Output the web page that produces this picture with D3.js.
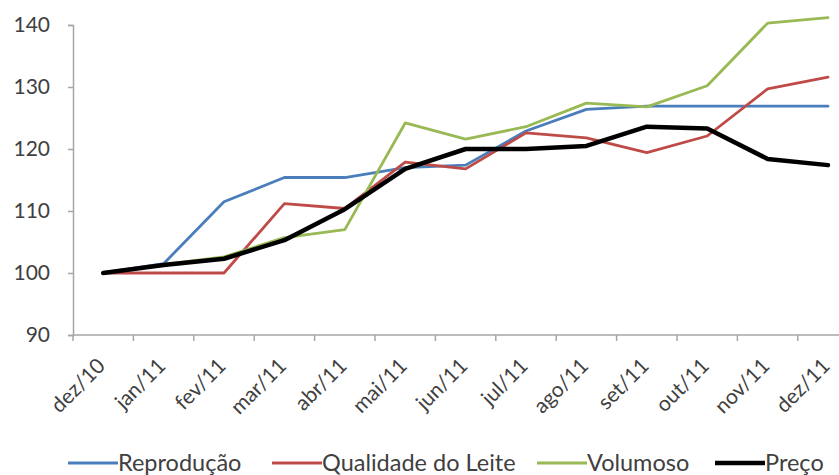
<!DOCTYPE html>
<html>
<head>
<meta charset="utf-8">
<script src="https://cdn.jsdelivr.net/npm/d3@7/dist/d3.min.js"></script>
<style>
  html, body { margin: 0; padding: 0; background: #fff; }
  svg { display: block; }
  text { font-family: Lato, "Open Sans", sans-serif; fill: #404040; }
</style>
</head>
<body>
<svg id="chart" width="839" height="475"></svg>
<script>
// Months on the category axis
const months = ["dez/10", "jan/11", "fev/11", "mar/11", "abr/11", "mai/11", "jun/11",
                "jul/11", "ago/11", "set/11", "out/11", "nov/11", "dez/11"];

// Index values (dez/10 = 100)
const reproducao = [100, 101.5, 111.5, 115.4, 115.4, 117.0, 117.4, 122.9, 126.4, 126.9, 126.9, 126.9, 126.9];
const qualidade  = [100, 100.0, 100.0, 111.2, 110.4, 117.9, 116.8, 122.6, 121.8, 119.4, 122.1, 129.7, 131.6];
const volumoso   = [100, 101.4, 102.6, 105.7, 107.0, 124.2, 121.6, 123.6, 127.4, 126.8, 130.2, 140.3, 141.2];
const preco      = [100, 101.3, 102.3, 105.3, 110.3, 116.8, 120.0, 120.0, 120.5, 123.6, 123.3, 118.4, 117.4];

const yTicks = [90, 100, 110, 120, 130, 140];

const series = [
  { name: "Reprodução",          values: reproducao, color: "#4A7EBB", width: 2.8 },
  { name: "Qualidade do Leite",  values: qualidade,  color: "#BE4B48", width: 2.8 },
  { name: "Volumoso",            values: volumoso,   color: "#98B954", width: 2.8 },
  { name: "Preço",               values: preco,      color: "#000000", width: 4.5 }
];

const svg = d3.select("#chart");
const axisColor = "#A6A6A6";

const plotLeft = 73, plotBottom = 335, plotTop = 25, step = 60.4;

const x = d3.scaleBand().domain(months)
  .range([plotLeft, plotLeft + step * months.length]);
const y = d3.scaleLinear().domain([90, 140]).range([plotBottom, plotTop]);
const cx = m => x(m) + x.bandwidth() / 2;

// Y axis
const yAxis = svg.append("g")
  .attr("transform", `translate(${plotLeft},0)`)
  .call(d3.axisLeft(y).tickValues(yTicks).tickSize(5).tickPadding(18).tickFormat(d3.format("d")));
yAxis.select(".domain").attr("stroke", axisColor).attr("stroke-width", 1.5);
yAxis.selectAll(".tick line").attr("stroke", axisColor).attr("stroke-width", 1.5);
yAxis.selectAll(".tick text")
  .style("font-size", "21px").attr("fill", "#404040");

// X axis: tick marks sit between categories
const edges = months.map(m => x(m)).concat([x.range()[1]]);
const xg = svg.append("g");
xg.append("line")
  .attr("x1", plotLeft).attr("x2", x.range()[1])
  .attr("y1", plotBottom).attr("y2", plotBottom)
  .attr("stroke", axisColor).attr("stroke-width", 1.5);
xg.selectAll("line.tk").data(edges).join("line")
  .attr("class", "tk")
  .attr("x1", d => d).attr("x2", d => d)
  .attr("y1", plotBottom).attr("y2", plotBottom + 6)
  .attr("stroke", axisColor).attr("stroke-width", 1.5);
xg.selectAll("text").data(months).join("text")
  .attr("transform", d => `translate(${cx(d) - 2},${plotBottom + 27}) rotate(-45)`)
  .attr("text-anchor", "end")
  .attr("dy", "0.35em")
  .style("font-size", "21px")
  .text(d => d);

// Lines
const line = d3.line().x((d, i) => cx(months[i])).y(d => y(d));
svg.append("g").selectAll("path").data(series).join("path")
  .attr("d", s => line(s.values))
  .attr("fill", "none")
  .attr("stroke", s => s.color)
  .attr("stroke-width", s => s.width)
  .attr("stroke-linejoin", "round")
  .attr("stroke-linecap", "round");

// Legend: line sample followed by the series name
const legendTextX = [118, 322, 587, 765];
const legend = svg.append("g").selectAll("g").data(series).join("g")
  .attr("transform", (s, i) => `translate(${legendTextX[i]},463)`);
legend.append("line")
  .attr("x1", -50).attr("x2", 0).attr("y1", 0).attr("y2", 0)
  .attr("stroke", s => s.color)
  .attr("stroke-width", s => s.width);
legend.append("text")
  .attr("x", 0).attr("dy", "0.35em")
  .style("font-size", "23.5px")
  .text(s => s.name);
</script>
</body>
</html>
